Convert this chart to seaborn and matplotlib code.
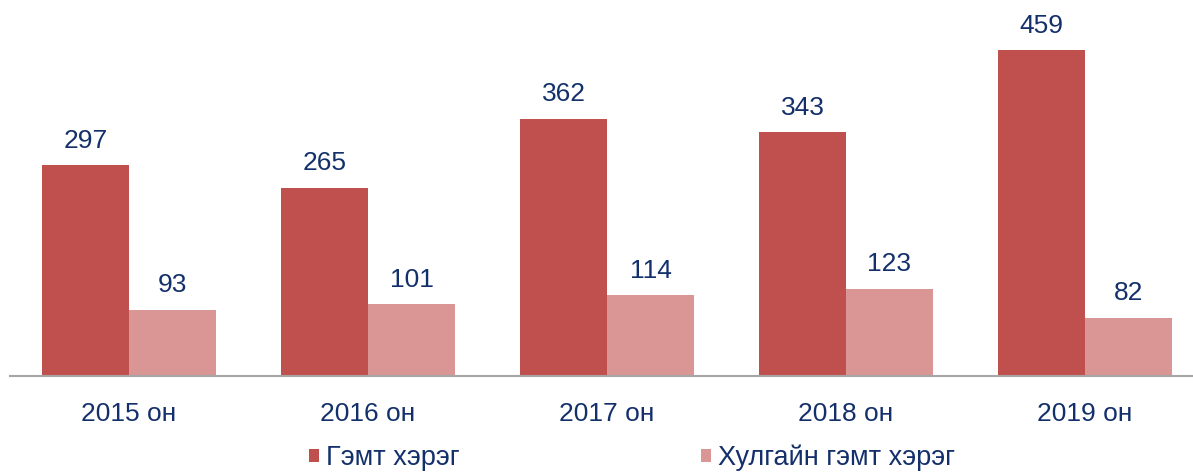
import matplotlib
matplotlib.use("Agg")
import matplotlib.pyplot as plt
import seaborn as sns
import pandas as pd
from matplotlib.patches import Patch

years = ["2015 он", "2016 он", "2017 он", "2018 он", "2019 он"]
series_names = ["Гэмт хэрэг", "Хулгайн гэмт хэрэг"]
crimes = [297, 265, 362, 343, 459]
theft = [93, 101, 114, 123, 82]
colors = ["#C0504D", "#D99694"]
text_color = "#14306B"

df = pd.DataFrame({
    "year": years * 2,
    "series": [series_names[0]] * len(years) + [series_names[1]] * len(years),
    "value": crimes + theft,
})

sns.set_theme(style="white")
plt.rcParams["font.family"] = ["Liberation Sans", "DejaVu Sans"]

fig = plt.figure(figsize=(11.93, 4.72), dpi=100)
ax = fig.add_axes([9.5 / 1193, 96 / 472, (1193 - 9.5) / 1193, 376 / 472])

sns.barplot(data=df, x="year", y="value", hue="series", order=years,
            hue_order=series_names, palette=colors, width=0.728, gap=0,
            saturation=1, ax=ax, legend=False, edgecolor="none", linewidth=0)

ax.set_xlim(-0.5, 4.452)
ax.set_ylim(0, 529.6)
ax.set_yticks([])
ax.set_xlabel("")
ax.set_ylabel("")
for s in ["top", "right", "left"]:
    ax.spines[s].set_visible(False)
ax.spines["bottom"].set_color("#A6A6A6")
ax.spines["bottom"].set_linewidth(1.5)
ax.tick_params(axis="x", length=0, pad=19, labelsize=19, labelcolor=text_color)

for cont in ax.containers:
    for bar in cont:
        h = bar.get_height()
        ax.annotate(f"{int(round(h))}", (bar.get_x() + bar.get_width() / 2, h),
                    xytext=(0, 9), textcoords="offset points",
                    ha="center", va="bottom", fontsize=19, color=text_color)

handles = [Patch(facecolor=c, edgecolor="none") for c in colors]
leg = fig.legend(handles, series_names, loc="center", bbox_to_anchor=(0.5295, 0.03),
                 ncol=2, frameon=False, handlelength=0.38, handleheight=0.38,
                 handletextpad=0.25, columnspacing=8.9,
                 prop={"family": ["Liberation Sans", "DejaVu Sans"], "size": 19.5})
for t in leg.get_texts():
    t.set_color(text_color)

fig.savefig("out.png", dpi=100)
